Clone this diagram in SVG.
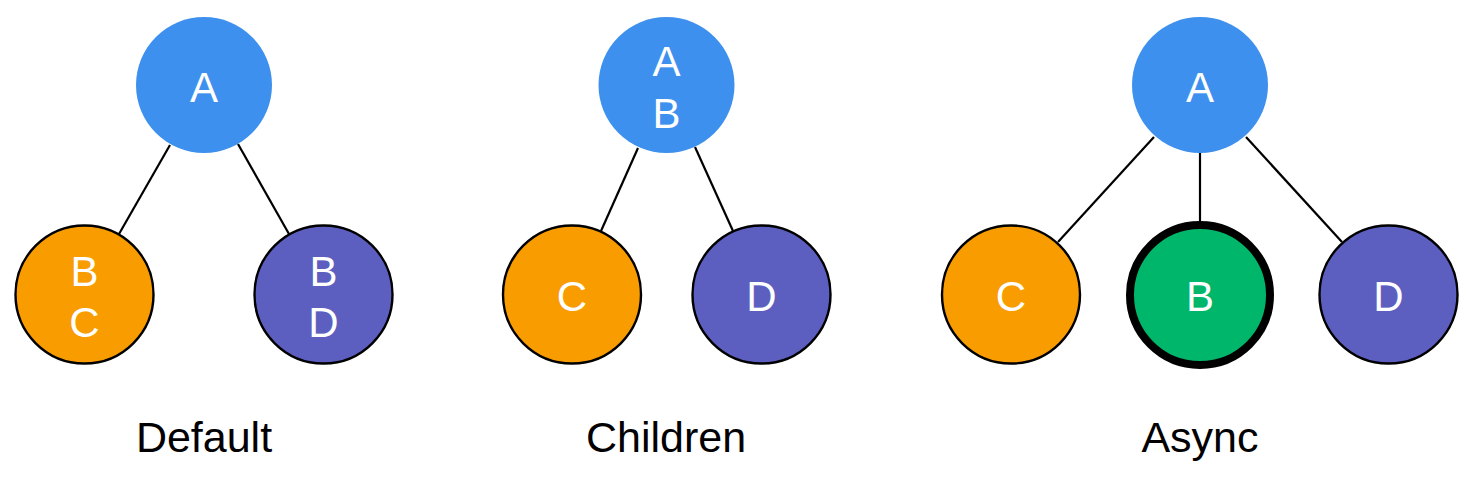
<svg xmlns="http://www.w3.org/2000/svg" width="1474" height="491" viewBox="0 0 1474 491">
<style>
.bg{fill:#ffffff}
.edge{stroke:#000;stroke-width:2.2;fill:none}
.a{fill:#3d90ee}
.c{fill:#f89c00;stroke:#000;stroke-width:2.4}
.d{fill:#5d5fc0;stroke:#000;stroke-width:2.4}
.b{fill:#00b66a;stroke:#000;stroke-width:8}
.t{font-family:"Liberation Sans",Arial,sans-serif;font-size:42px;fill:#fff;text-anchor:middle}
.lbl{font-family:"Liberation Sans",Arial,sans-serif;font-size:43px;fill:#000;text-anchor:middle}
</style>
<rect class="bg" x="0" y="0" width="1474" height="491"/>
<g id="connectors">
<line class="edge" x1="170" y1="145" x2="119" y2="234"/>
<line class="edge" x1="238" y1="144" x2="289" y2="234"/>
<line class="edge" x1="638" y1="148" x2="601" y2="231"/>
<line class="edge" x1="695" y1="147" x2="733" y2="231"/>
<line class="edge" x1="1154" y1="137" x2="1058" y2="242"/>
<line class="edge" x1="1200" y1="153" x2="1200" y2="222"/>
<line class="edge" x1="1246" y1="137" x2="1342" y2="242"/>
</g>
<g id="default-A"><circle class="a" cx="204" cy="85" r="68"/><text class="t" x="204" y="102">A</text></g>
<g id="default-BC"><circle class="c" cx="84.5" cy="294.5" r="69"/><text class="t" x="84.5" y="286">B</text><text class="t" x="84.5" y="337">C</text></g>
<g id="default-BD"><circle class="d" cx="323.5" cy="294.5" r="69"/><text class="t" x="323.5" y="286">B</text><text class="t" x="323.5" y="337">D</text></g>
<g id="children-AB"><circle class="a" cx="666.5" cy="85" r="68"/><text class="t" x="666.5" y="76">A</text><text class="t" x="666.5" y="128">B</text></g>
<g id="children-C"><circle class="c" cx="572" cy="294.5" r="69"/><text class="t" x="572" y="311">C</text></g>
<g id="children-D"><circle class="d" cx="761.5" cy="294.5" r="69"/><text class="t" x="761.5" y="311">D</text></g>
<g id="async-A"><circle class="a" cx="1200" cy="85" r="68"/><text class="t" x="1200" y="102">A</text></g>
<g id="async-C"><circle class="c" cx="1011" cy="294.5" r="69"/><text class="t" x="1011" y="311">C</text></g>
<g id="async-B"><circle class="b" cx="1200" cy="295" r="70"/><text class="t" x="1200" y="311">B</text></g>
<g id="async-D"><circle class="d" cx="1388.5" cy="294.5" r="69"/><text class="t" x="1388.5" y="311">D</text></g>
<g id="labels">
<text class="lbl" x="204" y="452">Default</text>
<text class="lbl" x="666" y="452">Children</text>
<text class="lbl" x="1200" y="452">Async</text>
</g>
</svg>
